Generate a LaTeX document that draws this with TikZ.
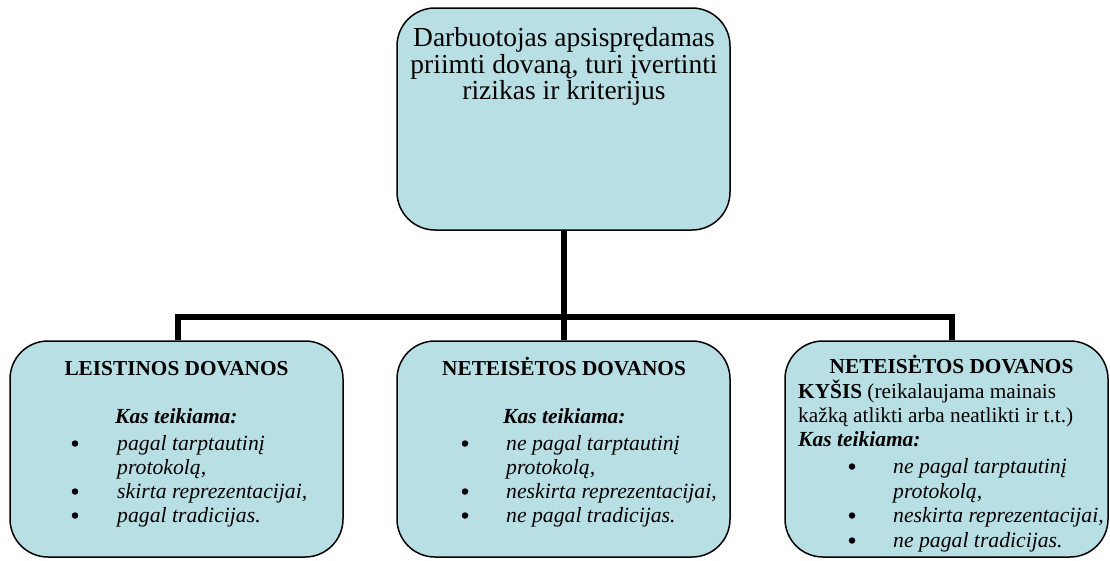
\documentclass[tikz,border=0pt]{standalone}
\usepackage{fontspec}
\setmainfont{Liberation Serif}
\begin{document}
\begin{tikzpicture}[x=1pt,y=-1pt,
  box/.style={draw=black, line width=1.5pt, fill=boxfill, rounded corners=38pt, inner sep=0pt},
  conn/.style={draw=black, line width=6pt, line join=miter},
  toptxt/.style={inner sep=0pt, anchor=base, font=\fontsize{27.5}{27}\selectfont},
  ttl/.style={inner sep=0pt, anchor=base, font=\fontsize{21.3}{24}\selectfont\bfseries},
  kas/.style={inner sep=0pt, anchor=base west, font=\fontsize{21.5}{24}\selectfont\bfseries\itshape},
  rm/.style={inner sep=0pt, anchor=base west, font=\fontsize{21.3}{24}\selectfont},
  it/.style={inner sep=0pt, anchor=base west, font=\fontsize{21.7}{24}\selectfont\itshape},
  dot/.style={circle, fill=black, inner sep=0pt, minimum size=6.5pt}]
\definecolor{boxfill}{RGB}{184,223,228}
\useasboundingbox (0,0) rectangle (1110,560);

% boxes
\node[box, minimum width=333pt, minimum height=222pt] (top) at (563.5,119) {};
\node[box, minimum width=333pt, minimum height=216pt] (lbox) at (176.5,449) {};
\node[box, minimum width=333pt, minimum height=216pt] (mbox) at (563.5,449) {};
\node[box, minimum width=323pt, minimum height=216pt] (rbox) at (946.5,449) {};

% connectors
\coordinate (bus) at (563.5,317);
\coordinate (busL) at (178,317);
\coordinate (busR) at (952,317);
\draw[conn] (top.south) -- (bus);
\draw[conn] (busL |- lbox.north) -- (busL) -- (busR) -- (busR |- rbox.north);
\draw[conn] (bus) -- (mbox.north);

% top text
\node[toptxt] (t1) at (564,46.5) {Darbuotojas apsisprędamas};
\node[toptxt] (t2) at (564,73) {priimti dovaną, turi įvertinti};
\node[toptxt] (t3) at (564,99) {rizikas ir kriterijus};

% left box
\node[ttl] (l0) at (176.5,375) {LEISTINOS DOVANOS};
\node[kas] (lk) at (115,423) {Kas teikiama:};
\node[dot] (lb1) at (75,443.5) {};
\node[it] (l1) at (117,450) {pagal tarptautinį};
\node[it] (l2) at (117,474) {protokolą,};
\node[dot] (lb2) at (75,491.5) {};
\node[it] (l3) at (117,498) {skirta reprezentacijai,};
\node[dot] (lb3) at (75,515.5) {};
\node[it] (l4) at (117,522) {pagal tradicijas.};

% middle box
\node[ttl] (m0) at (564,375) {NETEISĖTOS DOVANOS};
\node[kas] (mk) at (503,423) {Kas teikiama:};
\node[dot] (mb1) at (465,443.5) {};
\node[it] (m1) at (506,450) {ne pagal tarptautinį};
\node[it] (m2) at (506,474) {protokolą,};
\node[dot] (mb2) at (465,491.5) {};
\node[it] (m3) at (506,498) {neskirta reprezentacijai,};
\node[dot] (mb3) at (465,515.5) {};
\node[it] (m4) at (506,522) {ne pagal tradicijas.};

% right box
\begin{scope}
\clip (785,330) rectangle (1110,552);
\node[ttl] (r0) at (951.5,373) {NETEISĖTOS DOVANOS};
\node[rm] (r1) at (798,398) {\textbf{KYŠIS} (reikalaujama mainais};
\node[rm] (r2) at (798,422) {kažką atlikti arba neatlikti ir t.t.)};
\node[kas] (rk) at (798,446) {Kas teikiama:};
\node[dot] (rb1) at (852,466.5) {};
\node[it] (r3) at (893,473) {ne pagal tarptautinį};
\node[it] (r4) at (893,498) {protokolą,};
\node[dot] (rb2) at (852,515.5) {};
\node[it] (r5) at (893,522) {neskirta reprezentacijai,};
\node[dot] (rb3) at (852,540.5) {};
\node[it] (r6) at (893,547) {ne pagal tradicijas.};
\end{scope}
\end{tikzpicture}
\end{document}
